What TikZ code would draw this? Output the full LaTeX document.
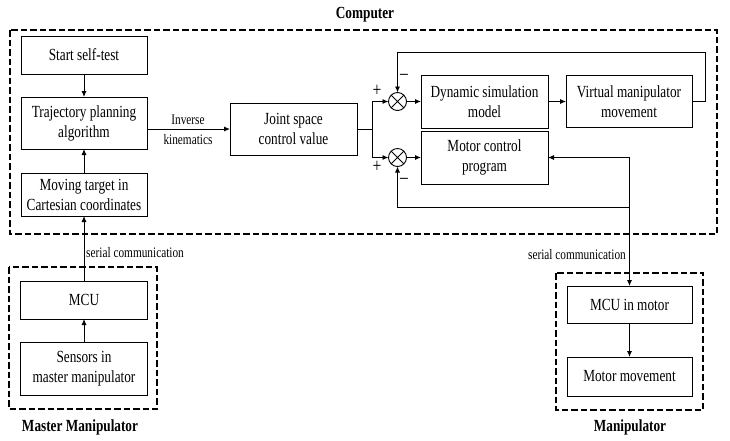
\documentclass[tikz,border=0pt]{standalone}
\usepackage{fontspec}
\setmainfont{Liberation Serif}[FakeStretch=0.78]
\usetikzlibrary{arrows.meta,calc}
\begin{document}
\begin{tikzpicture}[x=1pt,y=-1pt,
  box/.style={draw, line width=0.9pt, inner sep=0pt, outer sep=0pt, align=center,
    font=\fontsize{17}{20}\selectfont},
  grp/.style={draw, line width=2.4pt, dash pattern=on 6.5pt off 3pt},
  sumj/.style={circle, draw, line width=0.9pt, minimum size=18pt, inner sep=0pt, outer sep=0pt},
  arr/.style={-{Latex[length=6pt,width=5pt]}, line width=0.9pt},
  ln/.style={line width=0.9pt},
  small/.style={font=\fontsize{14.5}{20}\selectfont, align=center, inner sep=0pt},
  ttl/.style={font=\fontsize{17}{20}\selectfont\bfseries, inner sep=0pt},
  sgn/.style={font=\fontsize{20}{20}\selectfont, inner sep=0pt}]
\useasboundingbox (0,0) rectangle (730,440);

% group boxes
\draw[grp] (10,30) rectangle (717,234);
\draw[grp] (9,267) rectangle (157,409);
\draw[grp] (556,273) rectangle (703,410);
\node[ttl] (tcomp) at (365,15) {Computer};
\node[ttl] (tmaster) at (80,427) {Master Manipulator};
\node[ttl] (tmanip) at (630,427) {Manipulator};

% left column
\node[box, minimum width=126pt, minimum height=38pt] (start) at (84,55) {Start self-test};
\node[box, minimum width=126pt, minimum height=52pt] (traj) at (84,123) {Trajectory planning\\algorithm};
\node[box, minimum width=126pt, minimum height=43pt] (moving) at (84,194.5) {Moving target in\\Cartesian coordinates};
\node[box, minimum width=127pt, minimum height=38pt] (mcu) at (84,300) {MCU};
\node[box, minimum width=127pt, minimum height=53pt] (sensors) at (84,368.5) {Sensors in\\master manipulator};

% middle
\node[box, minimum width=127pt, minimum height=52pt] (joint) at (293.5,129) {Joint space\\control value};
\node[box, minimum width=127pt, minimum height=53pt] (dyn) at (484.5,101.5) {Dynamic simulation\\model};
\node[box, minimum width=126pt, minimum height=52pt] (virt) at (629,101.5) {Virtual manipulator\\movement};
\node[box, minimum width=127pt, minimum height=53pt] (motor) at (484.5,157.5) {Motor control\\program};

% manipulator
\node[box, minimum width=125pt, minimum height=37pt] (mcum) at (629.5,304.5) {MCU in motor};
\node[box, minimum width=125pt, minimum height=39pt] (motmov) at (629.5,376.5) {Motor movement};

% summing junctions
\node[sumj] (s1) at (397.5,101.5) {};
\node[sumj] (s2) at (397.5,157.5) {};
\draw[ln] (s1.north west) -- (s1.south east) (s1.north east) -- (s1.south west);
\draw[ln] (s2.north west) -- (s2.south east) (s2.north east) -- (s2.south west);
\node[sgn] (p1) at (377,91) {+};
\node[sgn] (m1) at (404,77) {–};
\node[sgn] (p2) at (377,167) {+};
\node[sgn] (m2) at (404,181) {–};

% connectors
\draw[arr] (start) -- (traj);
\draw[arr] (moving) -- (traj);
\draw[arr] (sensors) -- (mcu);
\draw[arr] (mcu.north) -- (moving.south);
\node[small, anchor=west] (sc1) at (86,253) {serial communication};

\draw[arr] (traj.east |- joint.west) -- (joint.west);
\node[small] (ik) at (188,130) {Inverse\\kinematics};

\coordinate (br) at (372,129);
\draw[ln] (joint.east) -- (br);
\draw[arr] (br) |- (s1.west);
\draw[arr] (br) |- (s2.west);
\draw[arr] (s1.east) -- (dyn.west);
\draw[arr] (s2.east) -- (motor.west);
\draw[arr] (dyn.east) -- (virt.west);

\coordinate (fbR) at (705,52);
\draw[arr] (virt.east) -| (fbR) -| (s1.north);

\coordinate (rc) at (629.5,207);
\draw[arr] (rc) |- (motor.east);
\draw[arr] (rc) -- (mcum.north);
\draw[arr] (rc) -| (s2.south);
\node[small, anchor=east] (sc2) at (626,255) {serial communication};

\draw[arr] (mcum) -- (motmov);
\end{tikzpicture}
\end{document}
